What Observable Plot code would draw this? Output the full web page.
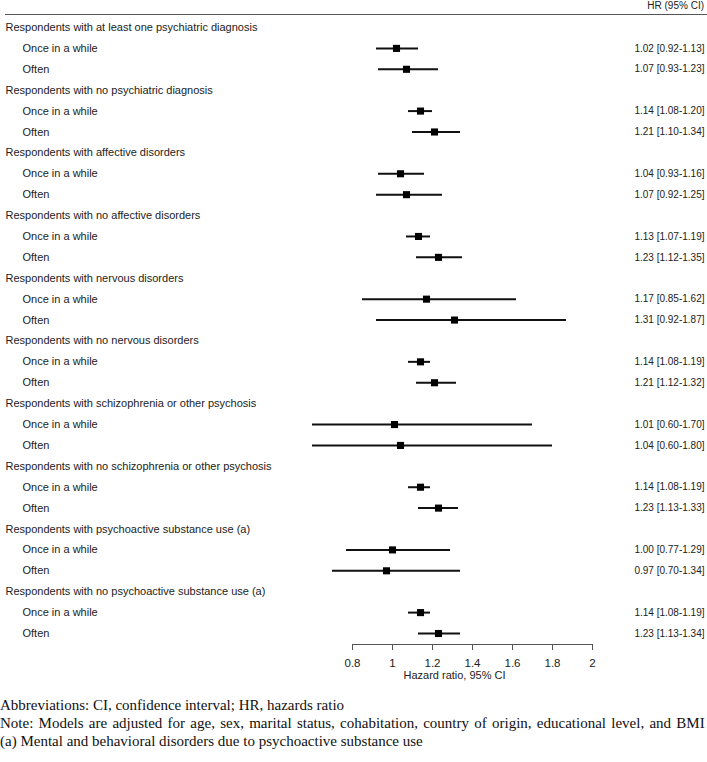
<!DOCTYPE html>
<html>
<head>
<meta charset="utf-8">
<script src="https://cdn.jsdelivr.net/npm/d3@7"></script>
<script src="https://cdn.jsdelivr.net/npm/@observablehq/plot@0.6"></script>
<style>
  body { margin: 0; background: #fff; width: 707px; }
  #hdr { font-family: "Liberation Sans", Arial, sans-serif; font-size: 10px; color: #222;
         text-align: right; padding-right: 3px; line-height: 12px;
         border-bottom: 1px solid #555; margin-left: 5px; box-sizing: border-box; height: 15px; }
  #notes { font-family: "Liberation Serif", "Times New Roman", serif; font-size: 15px;
           line-height: 18px; color: #111; padding-top: 6px; white-space: nowrap; }
  #notes div { margin: 0; }
  #notes div.wide { word-spacing: 1.5px; }
</style>
</head>
<body>
<div id="hdr"></div>
<div id="chart"></div>
<div id="notes"></div>
<script>
const headerLabel = "HR (95% CI)";
const groups = [
  "Respondents with at least one psychiatric diagnosis",
  "Respondents with no psychiatric diagnosis",
  "Respondents with affective disorders",
  "Respondents with no affective disorders",
  "Respondents with nervous disorders",
  "Respondents with no nervous disorders",
  "Respondents with schizophrenia or other psychosis",
  "Respondents with no schizophrenia or other psychosis",
  "Respondents with psychoactive substance use (a)",
  "Respondents with no psychoactive substance use (a)"
];
const levels = ["Once in a while", "Often"];
const hr    = [1.02, 1.07, 1.14, 1.21, 1.04, 1.07, 1.13, 1.23, 1.17, 1.31, 1.14, 1.21, 1.01, 1.04, 1.14, 1.23, 1.00, 0.97, 1.14, 1.23];
const lower = [0.92, 0.93, 1.08, 1.10, 0.93, 0.92, 1.07, 1.12, 0.85, 0.92, 1.08, 1.12, 0.60, 0.60, 1.08, 1.13, 0.77, 0.70, 1.08, 1.13];
const upper = [1.13, 1.23, 1.20, 1.34, 1.16, 1.25, 1.19, 1.35, 1.62, 1.87, 1.19, 1.32, 1.70, 1.80, 1.19, 1.33, 1.29, 1.34, 1.19, 1.34];
const xTicks = [0.8, 1, 1.2, 1.4, 1.6, 1.8, 2];
const xDomain = [0.8, 2];
const refValue = 1;
const axisLabel = "Hazard ratio, 95% CI";
const notes = [
  "Abbreviations: CI, confidence interval; HR, hazards ratio",
  "Note: Models are adjusted for age, sex, marital status, cohabitation, country of origin, educational level, and BMI",
  "(a) Mental and behavioral disorders due to psychoactive substance use"
];

document.getElementById("hdr").textContent = headerLabel;
const notesEl = document.getElementById("notes");
notes.forEach((t, i) => {
  const d = document.createElement("div");
  d.textContent = t;
  if (i === 1) d.className = "wide";
  notesEl.appendChild(d);
});

const rows = [];
const estimates = [];
groups.forEach((g, gi) => {
  rows.push({id: `g${gi}`, label: g, kind: "group"});
  levels.forEach((lv, li) => {
    const k = gi * 2 + li;
    const r = {id: `g${gi}-${li}`, label: lv, kind: "level", hr: hr[k], lo: lower[k], hi: upper[k]};
    rows.push(r);
    estimates.push(r);
  });
});
const f = d3.format(".2f");
const firstId = estimates[0].id;

const chart = Plot.plot({
  width: 707,
  height: 675,
  marginLeft: 352,
  marginRight: 115,
  marginTop: 0,
  marginBottom: 46,
  style: {fontFamily: '"Liberation Sans", Arial, sans-serif', fontSize: "11px", color: "#222", background: "#fff"},
  x: {domain: xDomain},
  y: {type: "point", domain: rows.map(d => d.id), range: [12, 618], padding: 0, round: false, axis: null},
  marks: [
    Plot.ruleX([refValue], {y1: () => firstId, insetTop: -10, stroke: "#cfcfcf", strokeWidth: 1}),
    Plot.frame({anchor: "bottom", stroke: "#555"}),
    Plot.axisX({ticks: xTicks, tickFormat: d => String(d), tickSize: 6, tickPadding: 8, label: null, stroke: "#555", fontSize: 11.5}),
    Plot.ruleY(estimates, {y: "id", x1: "lo", x2: "hi", stroke: "#111", strokeWidth: 2}),
    Plot.dot(estimates, {x: "hr", y: "id", symbol: "square", r: 4, fill: "#000", stroke: null}),
    Plot.text(rows.filter(d => d.kind === "group"), {y: "id", text: "label", frameAnchor: "left", dx: -347, textAnchor: "start", fill: "#222"}),
    Plot.text(rows.filter(d => d.kind === "level"), {y: "id", text: "label", frameAnchor: "left", dx: -330, textAnchor: "start", fill: "#222"}),
    Plot.text(estimates, {y: "id", text: d => `${f(d.hr)} [${f(d.lo)}-${f(d.hi)}]`, frameAnchor: "right", dx: 112, textAnchor: "end", fill: "#222", fontSize: 10}),
    Plot.text([axisLabel], {text: d => d, frameAnchor: "bottom", dy: 34, dx: -18, fill: "#222"})
  ]
});
document.getElementById("chart").appendChild(chart);
</script>
</body>
</html>
